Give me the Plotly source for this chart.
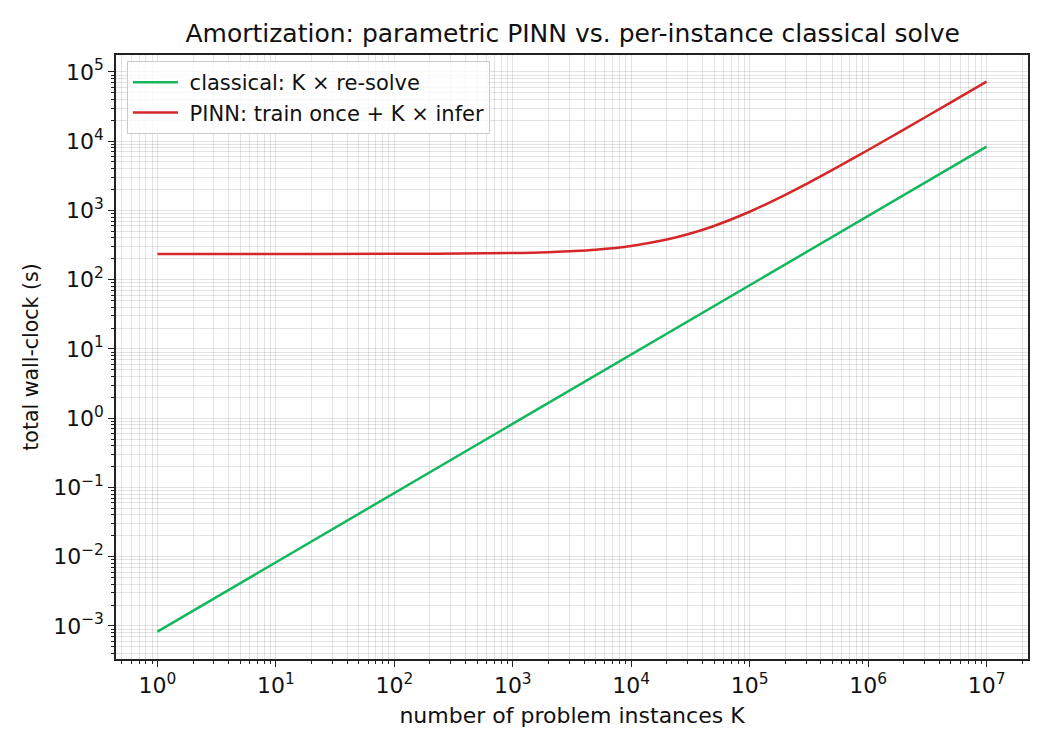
import math
import plotly.graph_objects as go

# Data
K_values = [1, 10, 100, 1e3, 2e3, 3e3, 5e3, 1e4, 2e4, 3e4, 5e4, 1e5, 2e5, 3e5, 5e5, 1e6, 2e6, 5e6, 1e7]
classical_s = [8.3e-4, 8.3e-3, 8.3e-2, 0.83, 1.66, 2.49, 4.15, 8.3, 16.6, 24.9, 41.5, 83, 166, 249,
               415, 830, 1660, 4150, 8300]
pinn_s = [235, 235, 236, 242, 249, 257, 271, 307, 379, 451, 595, 955, 1675, 2395, 3835, 7435,
          14635, 36235, 72235]

x_tickvals = [1, 10, 100, 1e3, 1e4, 1e5, 1e6, 1e7]
x_ticktext = ["10<sup>0</sup>", "10<sup>1</sup>", "10<sup>2</sup>", "10<sup>3</sup>",
              "10<sup>4</sup>", "10<sup>5</sup>", "10<sup>6</sup>", "10<sup>7</sup>"]
y_tickvals = [1e-3, 1e-2, 1e-1, 1, 10, 100, 1e3, 1e4, 1e5]
y_ticktext = ["10<sup>\u22123</sup>", "10<sup>\u22122</sup>", "10<sup>\u22121</sup>", "10<sup>0</sup>",
              "10<sup>1</sup>", "10<sup>2</sup>", "10<sup>3</sup>", "10<sup>4</sup>", "10<sup>5</sup>"]

x_range = [-0.35, 7.35]
y_range = [-3.477, 5.243]


def minor_vals(lo, hi):
    out = []
    for e in range(-5, 9):
        for m in range(2, 10):
            v = m * 10.0 ** e
            if lo < math.log10(v) < hi:
                out.append(v)
    return out


FONT = "DejaVu Sans"
GREEN = "#14b85c"
RED = "#d62728"
GRID = "rgba(0,0,0,0.11)"
FS = 22

fig = go.Figure()
fig.add_trace(go.Scatter(x=K_values, y=classical_s, mode="lines",
                         name=" classical: K \u00d7 re-solve",
                         line=dict(color=GREEN, width=2.5)))
fig.add_trace(go.Scatter(x=K_values, y=pinn_s, mode="lines", line_shape="spline",
                         name=" PINN: train once + K \u00d7 infer",
                         line=dict(color=RED, width=2.5)))

axis_common = dict(
    type="log", showline=True, linecolor="#222", linewidth=1.5, mirror=True,
    ticks="outside", ticklen=6, tickwidth=1.2, tickcolor="#222",
    showgrid=True, gridcolor=GRID, gridwidth=1, zeroline=False,
    tickfont=dict(family=FONT, size=FS, color="#111"),
)

fig.update_xaxes(**axis_common, range=x_range, tickvals=x_tickvals, ticktext=x_ticktext,
                 title=dict(text="number of problem instances K",
                            font=dict(family=FONT, size=FS, color="#111"), standoff=10),
                 minor=dict(tickvals=minor_vals(*x_range), ticks="outside", ticklen=3.5,
                            tickwidth=1, tickcolor="#222", showgrid=True, gridcolor=GRID, gridwidth=1))
fig.update_yaxes(**axis_common, range=y_range, tickvals=y_tickvals, ticktext=y_ticktext,
                 title=dict(text="total wall-clock (s)",
                            font=dict(family=FONT, size=20.5, color="#111"), standoff=9),
                 minor=dict(tickvals=minor_vals(*y_range), ticks="outside", ticklen=3.5,
                            tickwidth=1, tickcolor="#222", showgrid=True, gridcolor=GRID, gridwidth=1))

fig.update_layout(
    width=1050, height=750,
    margin=dict(l=116, r=22, t=55, b=91),
    plot_bgcolor="white", paper_bgcolor="white",
    font=dict(family=FONT, color="#111"),
    title=dict(text="Amortization: parametric PINN vs. per-instance classical solve",
               x=0.5454, xanchor="center", y=1 - 33 / 750, yanchor="middle",
               font=dict(family=FONT, size=25, color="#111")),
    legend=dict(x=0.012, y=0.99, xanchor="left", yanchor="top", itemwidth=45,
                bgcolor="rgba(255,255,255,0.8)", bordercolor="#cccccc", borderwidth=1,
                font=dict(family=FONT, size=21, color="#111")),
    showlegend=True,
)

fig.write_html("out.html")
